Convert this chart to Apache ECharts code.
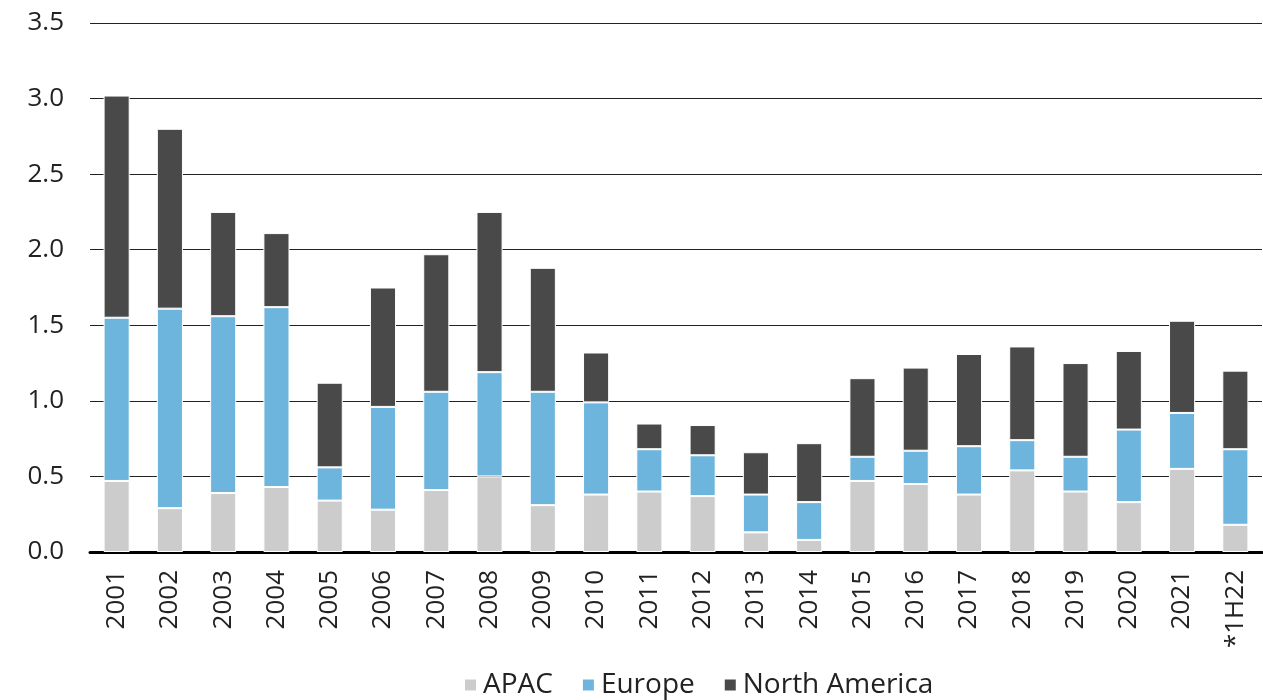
<!DOCTYPE html>
<html>
<head>
<meta charset="utf-8">
<script src="https://cdn.jsdelivr.net/npm/echarts@6/dist/echarts.min.js"></script>
<style>
  html, body { margin: 0; padding: 0; background: #fff; }
  #chart { width: 1263px; height: 700px; }
</style>
</head>
<body>
<div id="chart"></div>
<script>
// Categories (years) along the x axis
const years = ['2001','2002','2003','2004','2005','2006','2007','2008','2009','2010','2011',
  '2012','2013','2014','2015','2016','2017','2018','2019','2020','2021','*1H22'];

// Segment values per region
const apac = [0.47, 0.29, 0.39, 0.43, 0.34, 0.28, 0.41, 0.50, 0.31, 0.38, 0.40,
  0.37, 0.13, 0.08, 0.47, 0.45, 0.38, 0.54, 0.40, 0.33, 0.55, 0.18];
const europe = [1.08, 1.32, 1.17, 1.19, 0.22, 0.68, 0.65, 0.69, 0.75, 0.61, 0.28,
  0.27, 0.25, 0.25, 0.16, 0.22, 0.32, 0.20, 0.23, 0.48, 0.37, 0.50];
const northAmerica = [1.47, 1.19, 0.69, 0.49, 0.56, 0.79, 0.91, 1.06, 0.82, 0.33, 0.17,
  0.20, 0.28, 0.39, 0.52, 0.55, 0.61, 0.62, 0.62, 0.52, 0.61, 0.52];

// Y axis ticks
const yTicks = [0, 0.5, 1.0, 1.5, 2.0, 2.5, 3.0, 3.5];

const FONT = '"Open Sans", "Noto Sans", sans-serif';
const TEXT = '#222222';

const chart = echarts.init(document.getElementById('chart'), null, { renderer: 'canvas' });

function barSeries(name, data, color) {
  return {
    name, type: 'bar', stack: 'total', data,
    barWidth: '49%',
    itemStyle: { color, borderColor: '#ffffff', borderWidth: 1 },
    emphasis: { disabled: true }
  };
}

chart.setOption({
  animation: false,
  textStyle: { fontFamily: FONT },
  grid: { left: 90, right: 1, top: 23, bottom: 148, containLabel: false },
  legend: {
    top: 666,
    left: 458,
    itemWidth: 13,
    itemHeight: 13,
    itemGap: 28,
    icon: 'rect',
    textStyle: { fontFamily: FONT, fontSize: 28, color: TEXT, padding: [0, 0, 0, 1] },
    data: ['APAC', 'Europe', 'North America']
  },
  xAxis: {
    type: 'category',
    data: years,
    axisLine: { show: true, lineStyle: { color: '#000', width: 3 } },
    axisTick: { show: false },
    axisLabel: {
      rotate: 90,
      margin: 18,
      interval: 0,
      fontFamily: FONT,
      fontSize: 26,
      color: TEXT
    }
  },
  yAxis: {
    type: 'value',
    min: yTicks[0],
    max: yTicks[yTicks.length - 1],
    interval: 0.5,
    axisLine: { show: false },
    axisTick: { show: false },
    splitLine: { show: true, lineStyle: { color: '#222', width: 1 } },
    axisLabel: {
      margin: 26,
      fontFamily: FONT,
      fontSize: 26,
      color: TEXT,
      formatter: v => v.toFixed(1)
    }
  },
  series: [
    barSeries('APAC', apac, '#cccccc'),
    barSeries('Europe', europe, '#6eb5dd'),
    barSeries('North America', northAmerica, '#494949')
  ]
});
</script>
</body>
</html>
